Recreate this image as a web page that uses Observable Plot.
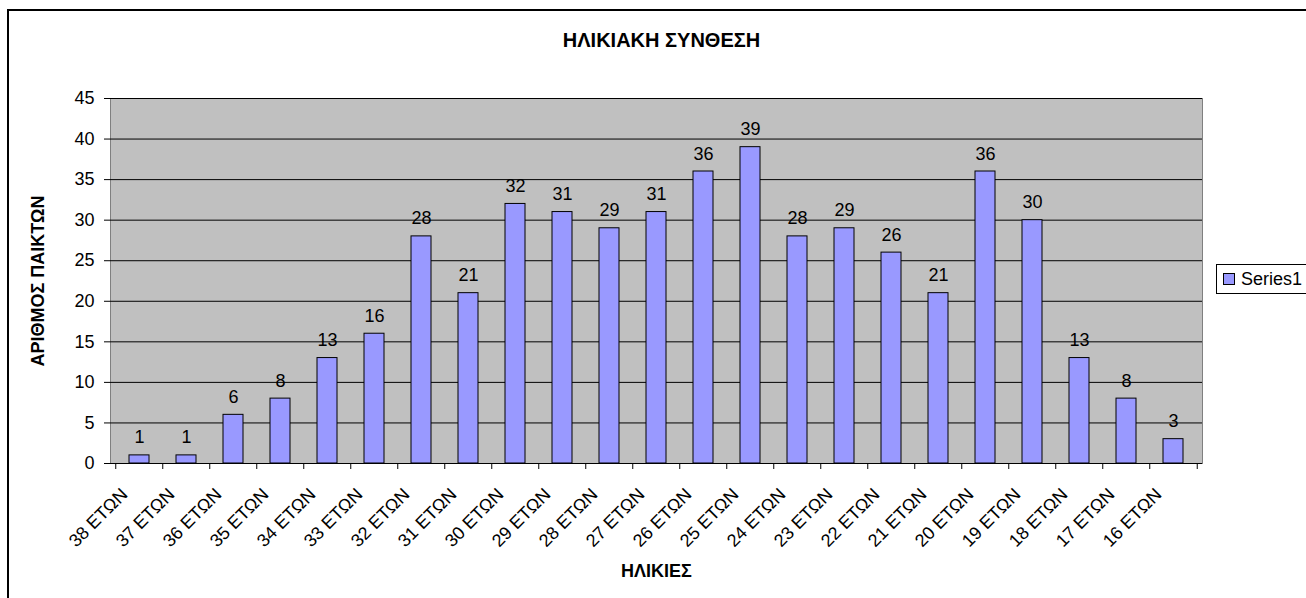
<!DOCTYPE html>
<html>
<head>
<meta charset="utf-8">
<script src="https://cdn.jsdelivr.net/npm/d3@7"></script>
<script src="https://cdn.jsdelivr.net/npm/@observablehq/plot@0.6"></script>
<style>
  html, body { margin: 0; padding: 0; background: #fff; }
  #wrap { position: relative; width: 1306px; height: 598px; overflow: hidden; font-family: "Liberation Sans", Arial, sans-serif; }
  #frame { position: absolute; left: 7px; top: 9px; width: 1400px; height: 700px; border: 2px solid #000; box-sizing: border-box; }
  #chart { position: absolute; left: 0; top: 0; }
  #legend { position: absolute; left: 1216px; top: 264px; height: 30px; width: 120px; box-sizing: border-box; border: 1px solid #000; background: #fff; display: flex; align-items: center; font-size: 18px; }
  #legend .sw { width: 12px; height: 12px; background: #9999FF; border: 1px solid #000; margin-left: 6px; margin-right: 6px; box-sizing: border-box; }
</style>
</head>
<body>
<div id="wrap">
  <div id="frame"></div>
  <div id="chart"></div>
  <div id="legend"><span class="sw"></span><span id="legendText"></span></div>
</div>
<script>
const titleText = "ΗΛΙΚΙΑΚΗ ΣΥΝΘΕΣΗ";
const xLabel = "ΗΛΙΚΙΕΣ";
const yLabel = "ΑΡΙΘΜΟΣ ΠΑΙΚΤΩΝ";
const seriesName = "Series1";
const categories = ["38 ΕΤΩΝ","37 ΕΤΩΝ","36 ΕΤΩΝ","35 ΕΤΩΝ","34 ΕΤΩΝ","33 ΕΤΩΝ","32 ΕΤΩΝ","31 ΕΤΩΝ","30 ΕΤΩΝ","29 ΕΤΩΝ","28 ΕΤΩΝ","27 ΕΤΩΝ","26 ΕΤΩΝ","25 ΕΤΩΝ","24 ΕΤΩΝ","23 ΕΤΩΝ","22 ΕΤΩΝ","21 ΕΤΩΝ","20 ΕΤΩΝ","19 ΕΤΩΝ","18 ΕΤΩΝ","17 ΕΤΩΝ","16 ΕΤΩΝ"];
const values = [1,1,6,8,13,16,28,21,32,31,29,31,36,39,28,29,26,21,36,30,13,8,3];
const yTicks = [0,5,10,15,20,25,30,35,40,45];

const data = categories.map((c, i) => ({cat: c, val: values[i]}));

const W = 1306, H = 598;
const mL = 110, mR = 104, mT = 98, mB = 135;
const step = (W - mL - mR) / categories.length;
const font = "'Liberation Sans', Arial, sans-serif";

const chart = Plot.plot({
  width: W,
  height: H,
  marginLeft: mL,
  marginRight: mR,
  marginTop: mT,
  marginBottom: mB,
  style: {fontFamily: font, fontSize: "18px", background: "transparent", color: "#000"},
  x: {domain: categories, paddingInner: 0.58, paddingOuter: 0.29, align: 0.5, label: null},
  y: {domain: [0, 45], label: null},
  marks: [
    Plot.frame({fill: "#C0C0C0", stroke: "#808080", strokeWidth: 1}),
    Plot.gridY(yTicks, {stroke: "#000", strokeOpacity: 1, strokeWidth: 1}),
    Plot.barY(data, {x: "cat", y: "val", fill: "#9999FF", stroke: "#000", strokeWidth: 1}),
    Plot.text(data, {x: "cat", y: "val", text: d => String(d.val), dy: -12, lineAnchor: "bottom", fontSize: 18, fill: "#000"}),
    Plot.ruleY([0], {stroke: "#000", strokeWidth: 1}),
    Plot.axisY({ticks: yTicks, tickSize: 6, tickPadding: 10, fontSize: 18, label: null, stroke: "#000"}),
    Plot.ruleX(categories, {x: d => d, y1: 0, y2: 0, insetBottom: -6, dx: -step / 2, stroke: "#000"}),
    Plot.ruleX([categories[categories.length - 1]], {x: d => d, y1: 0, y2: 0, insetBottom: -6, dx: step / 2, stroke: "#000"}),
    Plot.axisX({tickRotate: -45, tickSize: 0, tickPadding: 28, dx: -15, fontSize: 18, label: null}),
    Plot.text([titleText], {text: d => d, frameAnchor: "top", dy: -66, dx: 5, fontSize: 20, fontWeight: "bold", fill: "#000"}),
    Plot.text([xLabel], {text: d => d, frameAnchor: "bottom", dy: 113, fontSize: 18, fontWeight: "bold", fill: "#000"}),
    Plot.text([yLabel], {text: d => d, frameAnchor: "left", textAnchor: "middle", dx: -72, rotate: -90, fontSize: 18, fontWeight: "bold", fill: "#000"})
  ]
});
document.getElementById("chart").appendChild(chart);
document.getElementById("legendText").textContent = seriesName;
</script>
</body>
</html>
